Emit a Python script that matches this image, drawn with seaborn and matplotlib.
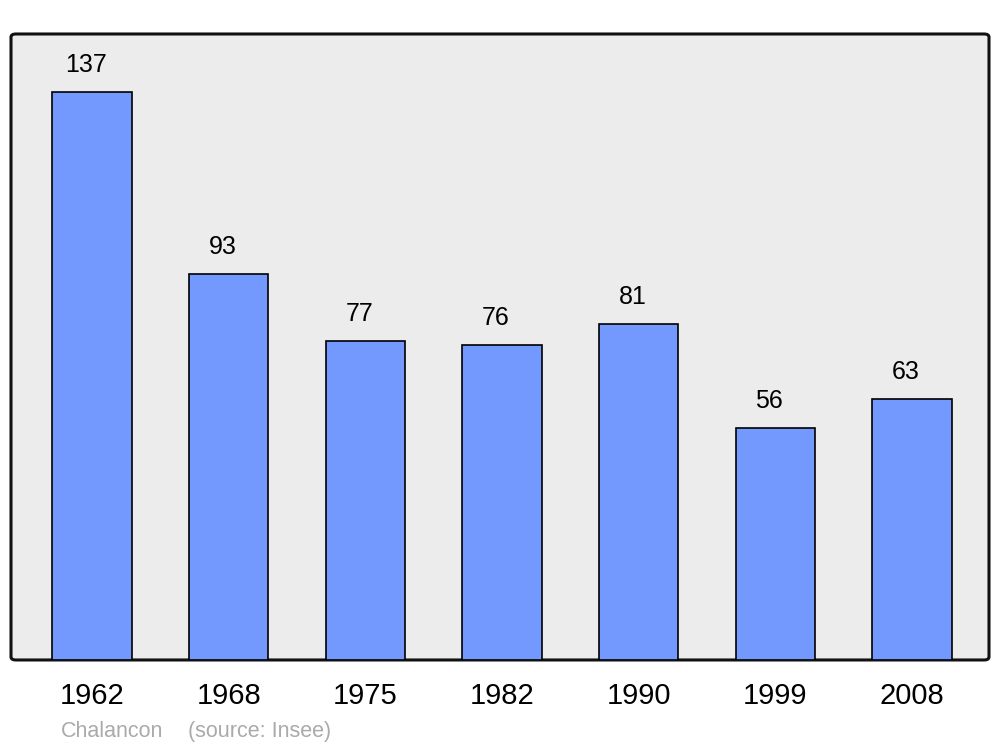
import matplotlib
matplotlib.use("Agg")
import matplotlib.pyplot as plt
import seaborn as sns
import pandas as pd
from matplotlib.patches import FancyBboxPatch

# data
years = ["1962", "1968", "1975", "1982", "1990", "1999", "2008"]
population = [137, 93, 77, 76, 81, 56, 63]
df = pd.DataFrame({"year": years, "pop": population})

sns.set_style("white")
plt.rcParams["font.family"] = ["Liberation Sans", "DejaVu Sans"]
plt.rcParams["text.color"] = "black"
plt.rcParams["xtick.color"] = "black"

fig = plt.figure(figsize=(10, 7.47), dpi=100)
ax = fig.add_axes([0.011, 0.1165, 0.978, 0.838])
ax.set_facecolor("none")

# rounded background frame
frame = FancyBboxPatch((0, 0), 1, 1, boxstyle="round,pad=0,rounding_size=0.005",
                       transform=ax.transAxes, facecolor="#ececec",
                       edgecolor="#111111", linewidth=2.2, zorder=0, clip_on=False)
ax.add_patch(frame)

sns.barplot(data=df, x="year", y="pop", color="#7399ff", saturation=1,
            width=0.58, edgecolor="black", linewidth=1.2, ax=ax, zorder=2)

for i, v in enumerate(population):
    ax.annotate(str(v), xy=(i, v), xytext=(-6, 27), textcoords="offset pixels",
                ha="center", va="center", fontsize=18, color="black")

ax.set_xlim(-0.593, 6.563)
ax.set_ylim(0, 151)
for s in ax.spines.values():
    s.set_visible(False)
ax.set_yticks([])
ax.set_xlabel("")
ax.set_ylabel("")
ax.tick_params(axis="x", length=0, labelsize=21, pad=16, labelcolor="black")

fig.text(0.061, 0.021, "Chalancon", color="#aaaaaa", fontsize=15.5, va="center")
fig.text(0.188, 0.021, "(source: Insee)", color="#aaaaaa", fontsize=15.5, va="center")

fig.savefig("out.png", dpi=100)
